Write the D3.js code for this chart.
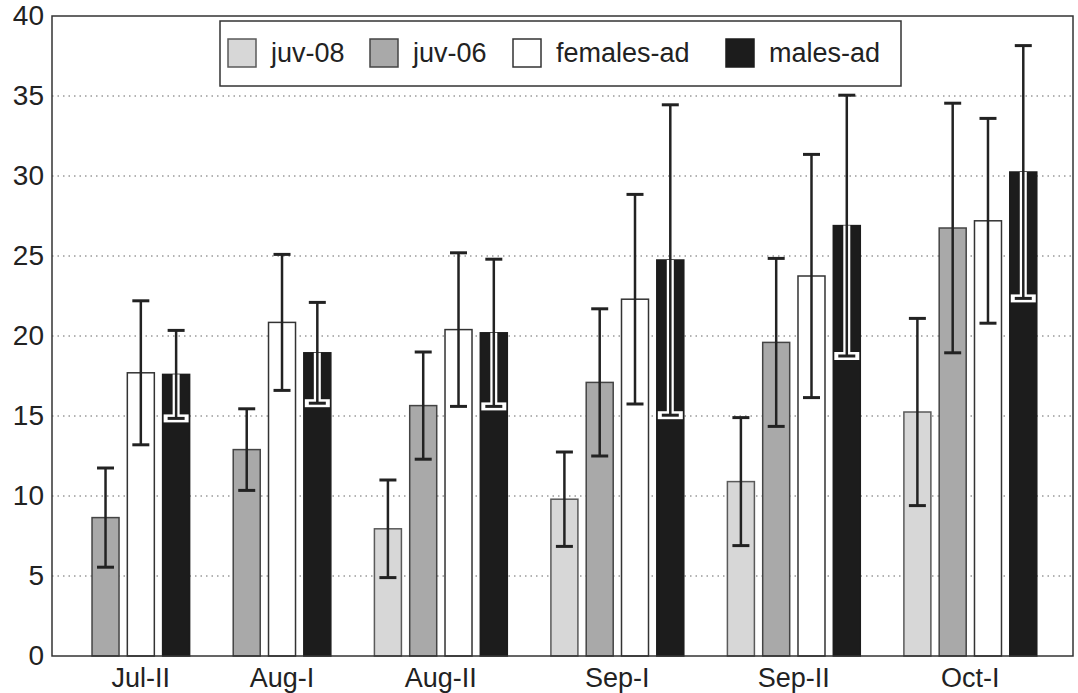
<!DOCTYPE html>
<html>
<head>
<meta charset="utf-8">
<script src="https://cdn.jsdelivr.net/npm/d3@7"></script>
<style>
  body { margin: 0; background: #fff; }
  svg { font-family: 'Liberation Sans', Arial, sans-serif; }
</style>
</head>
<body>
<div id="chart"></div>
<script>
const categories = ['Jul-II', 'Aug-I', 'Aug-II', 'Sep-I', 'Sep-II', 'Oct-I']
const seriesNames = ['juv-08', 'juv-06', 'females-ad', 'males-ad']
const juv08 = [null, null, 7.95, 9.8, 10.9, 15.25]
const juv08Err = [null, null, 3.05, 2.95, 4.0, 5.85]
const juv06 = [8.65, 12.9, 15.65, 17.1, 19.6, 26.75]
const juv06Err = [3.1, 2.55, 3.35, 4.6, 5.25, 7.8]
const females = [17.7, 20.85, 20.4, 22.3, 23.75, 27.2]
const femalesErr = [4.5, 4.25, 4.8, 6.55, 7.6, 6.4]
const males = [17.6, 18.95, 20.2, 24.75, 26.9, 30.25]
const malesErr = [2.75, 3.15, 4.6, 9.7, 8.15, 7.9]
const yTicks = [0, 5, 10, 15, 20, 25, 30, 35, 40]

const values = [juv08, juv06, females, males]
const errors = [juv08Err, juv06Err, femalesErr, malesErr]
const fills = ['#d7d7d7', '#a9a9a9', '#ffffff', '#1c1c1c']
const strokes = ['#5a5a5a', '#444', '#333', '#1c1c1c']

const width = 1078
const height = 693
const plotL = 52, plotR = 1073, plotT = 16, plotB = 656

// one slot per drawn bar, plus an empty slot between groups
const slots = []
categories.forEach((c, i) => {
    seriesNames.forEach((s, j) => {
        if (values[j][i] != null) {
            slots.push({ id: c + '|' + s, cat: c, s: j, v: values[j][i], e: errors[j][i] })
        }
    })
    if (i < categories.length - 1) slots.push({ id: 'gap' + i, gap: true })
})

const x = d3.scaleBand().domain(slots.map((d) => d.id)).range([plotL, plotR])
    .paddingInner(0.235).paddingOuter(1.08).align(0.525)
const y = d3.scaleLinear().domain([0, 40]).range([plotB, plotT])

const svg = d3.select('#chart').append('svg')
    .attr('width', width)
    .attr('height', height)

// grid
svg.append('g')
    .selectAll('line')
    .data(yTicks.filter((t) => t > 0 && t < 40))
    .enter()
    .append('line')
    .attr('x1', plotL).attr('x2', plotR)
    .attr('y1', (d) => y(d)).attr('y2', (d) => y(d))
    .attr('stroke', '#666')
    .attr('stroke-width', 1)
    .attr('stroke-dasharray', '1.5,4')

const yAxis = d3.axisLeft(y).tickValues(yTicks).tickSize(0).tickPadding(8)
svg.append('g')
    .attr('transform', `translate(${plotL},0)`)
    .call(yAxis)
    .call((g) => g.select('.domain').remove())
    .selectAll('text')
    .attr('font-size', 28)
    .attr('fill', '#222')
    .attr('font-family', "'Liberation Sans', Arial, sans-serif")

const bars = slots.filter((d) => !d.gap)

svg.append('g')
    .selectAll('rect')
    .data(bars)
    .enter()
    .append('rect')
    .attr('x', (d) => x(d.id))
    .attr('width', x.bandwidth())
    .attr('y', (d) => y(d.v))
    .attr('height', (d) => y(0) - y(d.v))
    .attr('fill', (d) => fills[d.s])
    .attr('stroke', (d) => strokes[d.s])
    .attr('stroke-width', 1.5)

// error bars
const cap = 17
const err = svg.append('g')
bars.forEach((d) => {
    const cx = x(d.id) + x.bandwidth() / 2
    const g = err.append('g')
    if (d.s === 3) {
        g.append('line')
            .attr('x1', cx).attr('x2', cx)
            .attr('y1', y(d.v)).attr('y2', y(d.v - d.e))
            .attr('stroke', '#fff').attr('stroke-width', 7)
        g.append('line')
            .attr('x1', cx - cap / 2).attr('x2', cx + cap / 2)
            .attr('y1', y(d.v - d.e)).attr('y2', y(d.v - d.e))
            .attr('stroke', '#fff').attr('stroke-width', 8)
            .attr('stroke-linecap', 'square')
    }
    g.append('line')
        .attr('x1', cx).attr('x2', cx)
        .attr('y1', y(d.v + d.e)).attr('y2', y(d.v - d.e))
        .attr('stroke', '#222').attr('stroke-width', 2.5)
    ;[d.v + d.e, d.v - d.e].forEach((v) => {
        g.append('line')
            .attr('x1', cx - cap / 2).attr('x2', cx + cap / 2)
            .attr('y1', y(v)).attr('y2', y(v))
            .attr('stroke', '#222').attr('stroke-width', 3)
    })
})

// frame
svg.append('rect')
    .attr('x', plotL).attr('y', plotT)
    .attr('width', plotR - plotL).attr('height', plotB - plotT)
    .attr('fill', 'none')
    .attr('stroke', '#333')
    .attr('stroke-width', 1.5)

// category labels, centred on the bars actually drawn
svg.append('g')
    .selectAll('text')
    .data(categories)
    .enter()
    .append('text')
    .attr('x', (c) => d3.mean(bars.filter((d) => d.cat === c), (d) => x(d.id) + x.bandwidth() / 2))
    .attr('y', 687)
    .attr('text-anchor', 'middle')
    .attr('font-size', 27)
    .attr('fill', '#222')
    .text((c) => c)

// legend
const legend = svg.append('g')
legend.append('rect')
    .attr('x', 220).attr('y', 21)
    .attr('width', 681).attr('height', 65)
    .attr('fill', '#fff')
    .attr('stroke', '#333')
    .attr('stroke-width', 1.5)
const legendX = [228, 370, 513, 726]
seriesNames.forEach((s, j) => {
    legend.append('rect')
        .attr('x', legendX[j]).attr('y', 39)
        .attr('width', 28).attr('height', 28)
        .attr('fill', fills[j])
        .attr('stroke', strokes[j])
        .attr('stroke-width', 1.5)
    legend.append('text')
        .attr('x', legendX[j] + 43)
        .attr('y', 62)
        .attr('font-size', 27)
        .attr('fill', '#222')
        .text(s)
})
</script>
</body>
</html>
